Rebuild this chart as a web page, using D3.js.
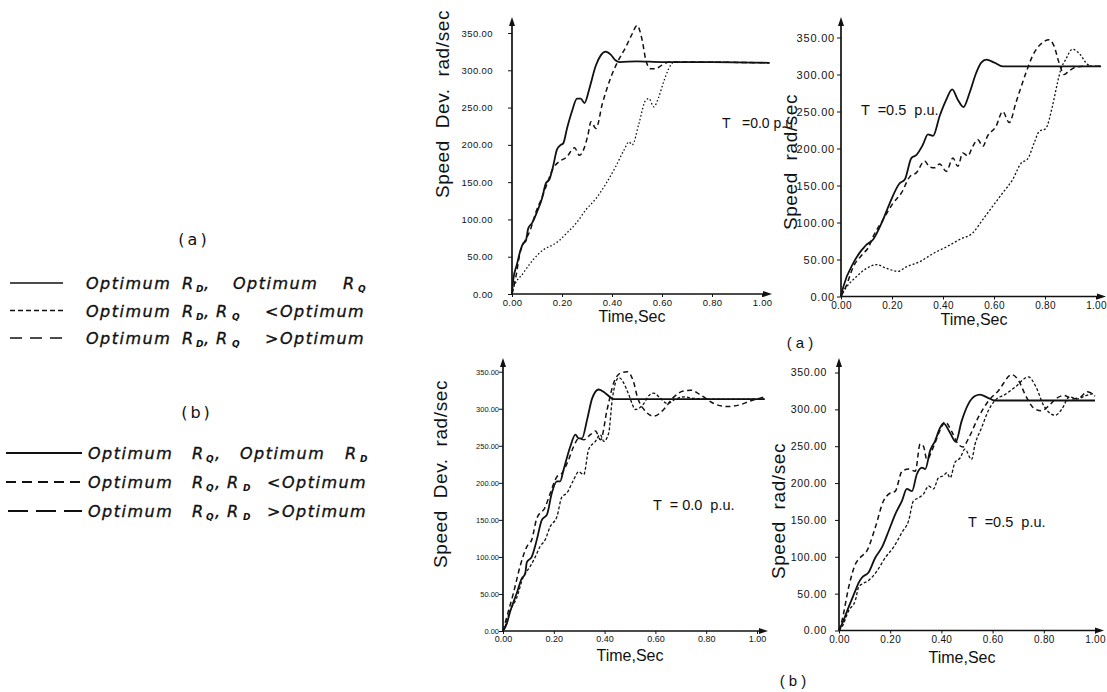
<!DOCTYPE html>
<html><head><meta charset="utf-8">
<script src="https://cdn.jsdelivr.net/npm/d3@7"></script>
<style>html,body{margin:0;padding:0;background:#fff;} svg text{white-space:pre;}</style>
</head><body><svg id="c" width="1107" height="692"></svg>
<script>
// ---------- data ----------
const timeTicks = [0, 0.2, 0.4, 0.6, 0.8, 1.0];
const speedTicks = [0, 50, 100, 150, 200, 250, 300, 350];

// (a) T = 0.0 p.u.
const aT0Opt = [[0,0],[0.005,19],[0.02,40],[0.035,60],[0.045,68],[0.055,71],[0.065,88],[0.08,95],[0.1,110],[0.12,128],[0.135,148],[0.15,154],[0.165,172],[0.18,194],[0.195,200],[0.205,202],[0.22,222],[0.24,245],[0.26,262],[0.275,262],[0.29,256],[0.31,276],[0.335,306],[0.355,320],[0.375,325],[0.395,321],[0.415,313],[0.43,311],[0.5,312],[0.6,311],[0.8,311],[1.03,310]];
const aT0High = [[0,0],[0.015,22],[0.032,55],[0.05,70],[0.071,84],[0.098,112],[0.118,128],[0.138,146],[0.164,168],[0.19,178],[0.217,183],[0.25,196],[0.27,186],[0.303,212],[0.316,231],[0.336,222],[0.362,256],[0.396,291],[0.422,311],[0.455,331],[0.481,349],[0.5,360],[0.521,340],[0.535,314],[0.554,302],[0.574,302],[0.6,307],[0.63,311],[0.7,311],[1.03,310]];
const aT0Low = [[0,0],[0.005,7],[0.045,28],[0.085,46],[0.124,59],[0.164,66],[0.19,72],[0.217,81],[0.257,95],[0.296,113],[0.336,128],[0.376,148],[0.415,171],[0.448,193],[0.468,204],[0.481,200],[0.508,229],[0.535,260],[0.548,262],[0.567,251],[0.587,264],[0.607,285],[0.627,302],[0.647,311],[0.7,311],[1.03,310]];

// (a) T = 0.5 p.u.
const aT5Opt = [[0,0],[0.009,13],[0.048,45],[0.075,60],[0.087,65],[0.1,70],[0.126,77],[0.159,99],[0.191,126],[0.23,153],[0.25,158],[0.276,187],[0.295,191],[0.321,205],[0.341,219],[0.361,217],[0.387,244],[0.413,266],[0.436,280],[0.458,266],[0.48,256],[0.504,275],[0.53,302],[0.55,316],[0.57,320],[0.602,316],[0.634,311],[0.673,311],[1.02,311]];
const aT5High = [[0,0],[0.02,14],[0.048,40],[0.087,58],[0.107,66],[0.126,81],[0.165,104],[0.204,126],[0.237,140],[0.27,162],[0.295,167],[0.328,183],[0.348,175],[0.367,174],[0.387,179],[0.413,169],[0.439,187],[0.458,176],[0.478,194],[0.497,190],[0.517,203],[0.536,212],[0.556,203],[0.575,217],[0.608,230],[0.634,250],[0.66,235],[0.686,262],[0.725,302],[0.751,325],[0.79,343],[0.816,347],[0.836,338],[0.855,316],[0.875,300],[0.895,305],[0.921,310],[0.95,311],[1.02,311]];
const aT5Low = [[0,0],[0.009,6],[0.061,27],[0.1,38],[0.139,43],[0.178,38],[0.224,34],[0.256,40],[0.309,47],[0.361,58],[0.413,67],[0.465,77],[0.517,86],[0.556,104],[0.595,122],[0.634,140],[0.673,158],[0.706,180],[0.732,186],[0.758,208],[0.777,223],[0.803,227],[0.829,257],[0.849,289],[0.862,307],[0.881,320],[0.907,334],[0.933,329],[0.966,314],[0.99,311],[1.02,311]];

// (b) T = 0.0 p.u.
const bT0Opt = [[0,0],[0.015,10],[0.028,26],[0.054,51],[0.074,71],[0.087,77],[0.094,93],[0.113,100],[0.133,123],[0.153,150],[0.173,157],[0.192,186],[0.212,202],[0.225,202],[0.238,217],[0.265,249],[0.285,265],[0.298,260],[0.311,260],[0.331,285],[0.351,314],[0.377,326],[0.403,321],[0.436,313],[0.5,313],[0.7,313],[1.03,313]];
const bT0High = [[0,0],[0.015,19],[0.041,51],[0.067,87],[0.094,114],[0.113,123],[0.133,152],[0.166,167],[0.186,186],[0.212,208],[0.232,213],[0.258,231],[0.278,249],[0.298,260],[0.318,258],[0.344,265],[0.364,270],[0.384,258],[0.41,299],[0.436,335],[0.462,348],[0.489,350],[0.515,335],[0.528,317],[0.555,299],[0.594,290],[0.63,298],[0.67,315],[0.71,324],[0.74,325],[0.78,318],[0.83,307],[0.88,303],[0.93,305],[0.97,310],[1.03,316]];
const bT0Low = [[0,0],[0.007,5],[0.026,26],[0.053,44],[0.08,73],[0.107,87],[0.127,100],[0.146,114],[0.166,123],[0.186,141],[0.212,154],[0.232,181],[0.251,186],[0.278,204],[0.298,215],[0.318,211],[0.337,245],[0.364,256],[0.383,265],[0.397,256],[0.416,267],[0.43,312],[0.443,335],[0.456,342],[0.475,335],[0.495,319],[0.522,299],[0.55,305],[0.575,318],[0.594,321],[0.62,314],[0.647,307],[0.68,313],[0.71,316],[0.75,314],[0.8,313],[1.03,313]];

// (b) T = 0.5 p.u.
const bT5Opt = [[0,0],[0.012,9],[0.038,32],[0.064,54],[0.077,65],[0.09,72],[0.116,79],[0.142,99],[0.168,113],[0.194,135],[0.22,158],[0.246,176],[0.265,192],[0.285,189],[0.304,212],[0.324,221],[0.337,219],[0.356,244],[0.375,257],[0.395,275],[0.408,281],[0.434,268],[0.456,256],[0.479,284],[0.505,307],[0.531,318],[0.551,320],[0.58,316],[0.609,312],[0.7,312],[1.0,312]];
const bT5High = [[0,0],[0.012,14],[0.038,59],[0.064,90],[0.083,99],[0.109,108],[0.142,140],[0.174,176],[0.194,185],[0.22,189],[0.246,216],[0.272,219],[0.298,216],[0.317,253],[0.33,250],[0.343,232],[0.37,250],[0.395,272],[0.415,283],[0.44,270],[0.465,253],[0.485,249],[0.505,260],[0.544,289],[0.583,311],[0.622,325],[0.675,347],[0.7,340],[0.73,318],[0.76,302],[0.79,298],[0.82,305],[0.85,315],[0.88,319],[0.91,314],[0.94,316],[0.97,324],[1.0,318]];
const bT5Low = [[0,0],[0.012,5],[0.038,27],[0.064,41],[0.077,59],[0.09,63],[0.116,68],[0.149,81],[0.181,99],[0.213,113],[0.246,133],[0.272,149],[0.291,176],[0.311,180],[0.33,185],[0.35,196],[0.369,192],[0.388,207],[0.408,210],[0.421,214],[0.434,207],[0.453,228],[0.473,234],[0.492,246],[0.518,232],[0.531,252],[0.557,275],[0.583,298],[0.609,312],[0.648,320],[0.687,330],[0.74,344],[0.77,330],[0.8,305],[0.845,292],[0.87,300],[0.9,317],[0.93,314],[0.96,318],[1.0,322]];

// texts
const yLabelDev = "Speed  Dev.  rad/sec";
const yLabelPlain = "Speed  rad/sec";
const xLabel = "Time,Sec";
const noteA0 = "T   =0.0 p.u";
const noteA5 = "T  =0.5  p.u.";
const noteB0 = "T  = 0.0  p.u.";
const noteB5 = "T  =0.5  p.u.";
const captionA = "( a )";
const captionB = "( b )";
const legendHeadA = "(a)";
const legendHeadB = "(b)";
const wordOpt = "Optimum";
const wordLess = "<Optimum";
const wordMore = ">Optimum";

// ---------- drawing ----------
const svg = d3.select("#c");
svg.append("rect").attr("width",1107).attr("height",692).attr("fill","#fff");
const INK = "#111";
const SANS = "'Liberation Sans', Arial, sans-serif";

const panels = [
  {opt:aT0Opt, high:aT0High, low:aT0Low, x0:512, x1:762, y0:294, y350:33, top:17, right:772,
   yFont:9.5, yLs:0.4, yPad:15, xFont:9.5, xLs:0.2, lowDash:"1.5,2.2", highDash:"5,3.5",
   ylab:{t:yLabelDev, x:449, cy:104}, xlab:{x:632, y:322}, note:{t:noteA0, x:722, y:128, s:14}},
  {opt:aT5Opt, high:aT5High, low:aT5Low, x0:841, x1:1096, y0:296.5, y350:37.5, top:17, right:1106,
   yFont:11, yLs:0.8, yPad:2, xFont:10, xLs:0.3, lowDash:"2,2", highDash:"5,3.5",
   ylab:{t:yLabelPlain, x:797, cy:162}, xlab:{x:974, y:325}, note:{t:noteA5, x:861, y:115, s:14.5}},
  {opt:bT0Opt, high:bT0High, low:bT0Low, x0:503, x1:757, y0:631, y350:371.7, top:358, right:768,
   yFont:7.5, yLs:0, yPad:0, xFont:9, xLs:0, lowDash:"3,2", highDash:"5,3.5",
   ylab:{t:yLabelDev, x:447, cy:474}, xlab:{x:630, y:661}, note:{t:noteB0, x:653, y:510, s:14.5}},
  {opt:bT5Opt, high:bT5High, low:bT5Low, x0:839, x1:1095, y0:630.5, y350:372.5, top:358, right:1104,
   yFont:10.5, yLs:0.7, yPad:8, xFont:10, xLs:0.3, lowDash:"3,2", highDash:"5,3.5",
   ylab:{t:yLabelPlain, x:785, cy:511}, xlab:{x:962, y:663}, note:{t:noteB5, x:968, y:527, s:14.5}}
];

panels.forEach(p => {
  const g = svg.append("g");
  const x = d3.scaleLinear().domain([0,1]).range([p.x0, p.x1]);
  const y = d3.scaleLinear().domain([0,350]).range([p.y0, p.y350]);

  // axis labels (drawn first so tick labels sit on top, as in the scan)
  g.append("text").attr("transform", `translate(${p.ylab.x},${p.ylab.cy}) rotate(-90)`)
    .attr("text-anchor","middle").attr("font-family",SANS).attr("font-size",19)
    .attr("letter-spacing",0.6).attr("fill",INK).text(p.ylab.t);
  g.append("text").attr("x",p.xlab.x).attr("y",p.xlab.y).attr("text-anchor","middle")
    .attr("font-family",SANS).attr("font-size",16).attr("fill",INK).text(xLabel);

  // y axis
  const ya = g.append("g").attr("transform",`translate(${p.x0},0)`)
    .call(d3.axisLeft(y).tickValues(speedTicks).tickFormat(d3.format(".2f")).tickSize(4).tickPadding(p.yPad));
  ya.select(".domain").remove();
  ya.selectAll("line").attr("stroke",INK);
  ya.selectAll("text").attr("font-family",SANS).attr("font-size",p.yFont).attr("letter-spacing",p.yLs).attr("fill",INK);
  // x axis
  const xa = g.append("g").attr("transform",`translate(0,${p.y0})`)
    .call(d3.axisBottom(x).tickValues(timeTicks).tickFormat(d3.format(".2f")).tickSize(3).tickPadding(2));
  xa.select(".domain").remove();
  xa.selectAll("line").attr("stroke",INK);
  xa.selectAll("text").attr("font-family",SANS).attr("font-size",p.xFont).attr("letter-spacing",p.xLs).attr("fill",INK);

  // axis lines with arrows
  g.append("line").attr("x1",p.x0).attr("x2",p.x0).attr("y1",p.y0).attr("y2",p.top+6).attr("stroke",INK).attr("stroke-width",1.7);
  g.append("path").attr("d",`M${p.x0},${p.top} l-3,9 l6,0 z`).attr("fill",INK);
  g.append("line").attr("x1",p.x0).attr("x2",p.right-6).attr("y1",p.y0).attr("y2",p.y0).attr("stroke",INK).attr("stroke-width",1.7);
  g.append("path").attr("d",`M${p.right},${p.y0} l-9,-3 l0,6 z`).attr("fill",INK);

  const line = d3.line().x(d=>x(d[0])).y(d=>y(d[1])).curve(d3.curveMonotoneX);
  g.append("path").datum(p.low).attr("d",line).attr("fill","none").attr("stroke",INK)
    .attr("stroke-width",1.3).attr("stroke-dasharray",p.lowDash);
  g.append("path").datum(p.high).attr("d",line).attr("fill","none").attr("stroke",INK)
    .attr("stroke-width",1.5).attr("stroke-dasharray",p.highDash);
  g.append("path").datum(p.opt).attr("d",line).attr("fill","none").attr("stroke",INK)
    .attr("stroke-width",1.8);

  g.append("text").attr("x",p.note.x).attr("y",p.note.y).attr("font-family",SANS)
    .attr("font-size",p.note.s).attr("fill",INK).text(p.note.t);
});

// captions
svg.append("text").attr("x",800).attr("y",348).attr("text-anchor","middle").attr("font-family",SANS)
  .attr("font-size",15).attr("fill",INK).text(captionA);
svg.append("text").attr("x",793).attr("y",686).attr("text-anchor","middle").attr("font-family",SANS)
  .attr("font-size",15).attr("fill",INK).text(captionB);

// ---------- legend ----------
const LEGFONT = "'DejaVu Sans', sans-serif";
svg.append("text").attr("x",194).attr("y",245).attr("text-anchor","middle").attr("font-family",LEGFONT)
  .attr("font-size",16).attr("letter-spacing",3).attr("fill",INK).text(legendHeadA);
svg.append("text").attr("x",197).attr("y",418).attr("text-anchor","middle").attr("font-family",LEGFONT)
  .attr("font-size",16).attr("letter-spacing",3).attr("fill",INK).text(legendHeadB);

const legendRows = [
  {y:289, lx1:10, lx2:63, dash:null, w:1.6, parts:[[wordOpt,86],["R",182],["D",196,1],[",",204],[wordOpt,233],["R",343],["Q",358,1]]},
  {y:316.5, lx1:10, lx2:63, dash:"5,3", w:1.5, parts:[[wordOpt,86],["R",182],["D",196,1],[",",204],["R",216],["Q",232,1],[wordLess,265]]},
  {y:344, lx1:10, lx2:63, dash:"12,8", w:1.7, parts:[[wordOpt,86],["R",182],["D",196,1],[",",204],["R",216],["Q",232,1],[wordMore,265]]},
  {y:459, lx1:6, lx2:82, dash:null, w:2.2, parts:[[wordOpt,88],["R",192],["Q",206,1],[",",215],[wordOpt,240],["R",345],["D",360,1]]},
  {y:488, lx1:6, lx2:82, dash:"10,6", w:2.2, parts:[[wordOpt,88],["R",192],["Q",206,1],[",",215],["R",227],["D",243,1],[wordLess,267]]},
  {y:517, lx1:8, lx2:82, dash:"20,8", w:2.2, parts:[[wordOpt,88],["R",192],["Q",206,1],[",",215],["R",227],["D",243,1],[wordMore,267]]}
];
legendRows.forEach(r => {
  const ln = svg.append("line").attr("x1",r.lx1).attr("x2",r.lx2).attr("y1",r.y-6).attr("y2",r.y-6)
    .attr("stroke",INK).attr("stroke-width",r.w);
  if (r.dash) ln.attr("stroke-dasharray",r.dash);
  r.parts.forEach(pt => {
    const sub = pt[2] === 1;
    svg.append("text").attr("x",pt[1]).attr("y",r.y + (sub ? 3 : 0))
      .attr("font-family",LEGFONT).attr("font-style","italic")
      .attr("font-size", sub ? 9 : 16).attr("font-weight", sub ? "bold" : "normal")
      .attr("letter-spacing", sub ? 0 : 1.5).attr("fill",INK)
      .attr("stroke",INK).attr("stroke-width", sub ? 0 : 0.35)
      .text(pt[0]);
  });
});
</script></body></html>
